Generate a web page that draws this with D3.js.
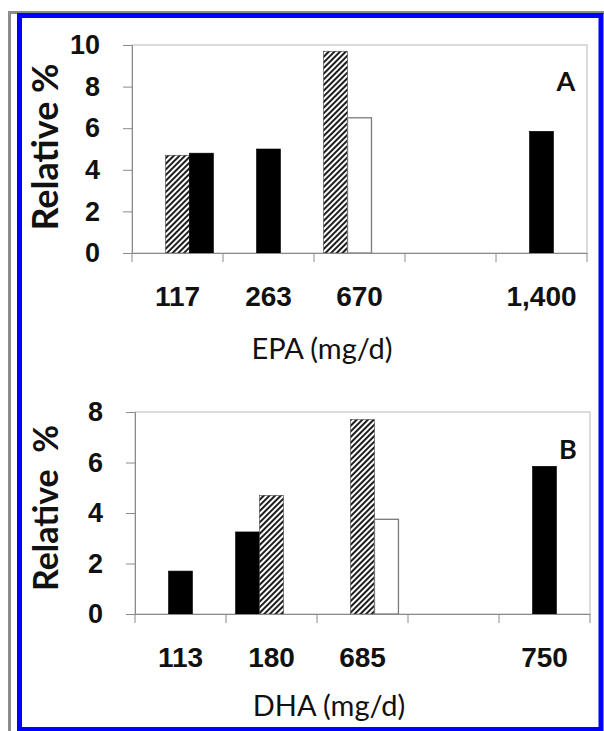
<!DOCTYPE html>
<html lang="en">
<head>
<meta charset="UTF-8">
<title>EPA / DHA - Relative %</title>
<script src="https://d3js.org/d3.v7.min.js"></script>
<style>
    body { margin: 0; background: #fff; }
    svg { display: block; font-family: Lato, "Open Sans", sans-serif; }
    .tick text { font-weight: bold; fill: #111; }
    .ylab { font-weight: bold; white-space: pre; }
</style>
</head>
<body>
<svg id="canvas" width="604" height="731"></svg>
<script>
// ---- panel A : EPA ----
// three bars per cluster (series 1..3); group says which study type the bar is
let epaLabels = ["117", "263", "670", "", "1,400"];
let epaSeries = [
    [null, null, 9.7, null, null],
    [4.7, 5.0, 6.5, null, 5.85],
    [4.8, null, null, null, null]
];
let epaGroups = [
    [null, null, "h", null, null],
    ["h", "b", "w", null, "b"],
    ["b", null, null, null, null]
];
let epaTicks = [0, 2, 4, 6, 8, 10];

// ---- panel B : DHA ----
let dhaLabels = ["113", "180", "685", "", "750"];
let dhaSeries = [
    [null, 3.25, null, null, null],
    [1.7, 4.7, 7.7, null, 5.85],
    [null, null, 3.75, null, null]
];
let dhaGroups = [
    [null, "b", null, null, null],
    ["b", "h", "h", null, "b"],
    [null, null, "w", null, null]
];
let dhaTicks = [0, 2, 4, 6, 8];

let svg = d3.select('#canvas');

// frame: grey outer line, blue inner line
svg.append('rect').attr('x', 9.5).attr('y', 12.5).attr('width', 700).attr('height', 800)
    .attr('fill', 'none').attr('stroke', '#8c8c8c').attr('stroke-width', 3);
svg.append('rect').attr('x', 19.5).attr('y', 15.5).attr('width', 581.5).attr('height', 714)
    .attr('fill', '#fff').attr('stroke', '#0000ff').attr('stroke-width', 5);

// hatch pattern  ////
let defs = svg.append('defs');
defs.append('pattern')
    .attr('id', 'hatch')
    .attr('patternUnits', 'userSpaceOnUse')
    .attr('width', 4).attr('height', 4)
    .attr('patternTransform', 'rotate(45)')
    .call(p => {
        p.append('rect').attr('width', 4).attr('height', 4).attr('fill', '#fff');
        p.append('line').attr('x1', 1).attr('y1', 0).attr('x2', 1).attr('y2', 4)
            .attr('stroke', '#111').attr('stroke-width', 1.9);
    });

let fillScale = d3.scaleOrdinal().domain(["b", "h", "w"]).range(["#000", "url(#hatch)", "#fff"]);
let strokeScale = d3.scaleOrdinal().domain(["b", "h", "w"]).range(["#000", "#444", "#7a7a7a"]);

function drawPanel(cfg) {
    let g = svg.append('g');
    let x = d3.scaleBand().domain(cfg.labels.map((d, i) => i)).range([cfg.x0, cfg.x1]);
    let gap = x.bandwidth() * 0.105;
    let x1 = d3.scaleBand().domain([0, 1, 2]).range([gap, x.bandwidth() - gap]);
    let y = d3.scaleLinear().domain([0, cfg.yMax]).range([cfg.y1, cfg.y0]);

    // plot area border
    g.append('rect').attr('x', cfg.x0).attr('y', cfg.y0)
        .attr('width', cfg.x1 - cfg.x0).attr('height', cfg.y1 - cfg.y0)
        .attr('fill', 'none').attr('stroke', '#b8b8b8').attr('stroke-width', 1);

    // bars
    let bars = [];
    cfg.series.forEach((s, si) => s.forEach((v, ci) => {
        if (v != null) bars.push({ci: ci, si: si, v: v, grp: cfg.groups[si][ci]});
    }));
    g.selectAll('rect.bar').data(bars).enter().append('rect')
        .attr('class', 'bar')
        .attr('x', d => x(d.ci) + x1(d.si))
        .attr('width', x1.bandwidth())
        .attr('y', d => y(d.v))
        .attr('height', d => y(0) - y(d.v))
        .attr('fill', d => fillScale(d.grp))
        .attr('stroke', d => strokeScale(d.grp))
        .attr('stroke-width', d => d.grp === 'w' ? 1.3 : 0.6);

    // y axis
    let yAxis = g.append('g').attr('transform', `translate(${cfg.x0},0)`)
        .call(d3.axisLeft(y).tickValues(cfg.ticks).tickSize(9).tickPadding(23));
    yAxis.select('.domain').attr('stroke', '#8a8a8a');
    yAxis.selectAll('.tick line').attr('stroke', '#8a8a8a');
    yAxis.selectAll('.tick text').attr('font-size', 27);

    // x axis: labels at band centres, tick marks at band edges
    let xAxis = g.append('g').attr('transform', `translate(0,${cfg.y1})`)
        .call(d3.axisBottom(x).tickFormat(i => cfg.labels[i]).tickSize(0).tickPadding(33));
    xAxis.select('.domain').attr('stroke', '#8a8a8a');
    xAxis.selectAll('.tick text').attr('font-size', 28);
    let edges = x.domain().map(d => x(d)).concat([cfg.x1]);
    xAxis.selectAll('line.edge').data(edges).enter().append('line')
        .attr('class', 'edge')
        .attr('x1', d => d).attr('x2', d => d)
        .attr('y1', 0).attr('y2', 9)
        .attr('stroke', '#8a8a8a');

    // titles
    g.append('text').attr('x', cfg.titleX).attr('y', cfg.titleY)
        .attr('text-anchor', 'middle').attr('font-size', 29).attr('fill', '#111')
        .text(cfg.title);
    g.append('text').attr('class', 'ylab')
        .attr('transform', `translate(${cfg.ylabX},${cfg.ylabY}) rotate(-90)`)
        .attr('text-anchor', 'middle').attr('font-size', cfg.ylabSize).attr('fill', '#111')
        .text(cfg.ylab);
    g.append('text').attr('x', cfg.letterX).attr('y', cfg.letterY)
        .attr('text-anchor', 'middle').attr('font-size', 27).attr('font-weight', 'bold')
        .attr('fill', '#111').text(cfg.letter);
}

drawPanel({
    labels: epaLabels, series: epaSeries, groups: epaGroups, ticks: epaTicks, yMax: 10,
    x0: 132, x1: 587, y0: 45, y1: 253,
    title: "EPA (mg/d)", titleX: 322, titleY: 359,
    ylab: "Relative %", ylabX: 58, ylabY: 147, ylabSize: 36,
    letter: "A", letterX: 566, letterY: 91
});

drawPanel({
    labels: dhaLabels, series: dhaSeries, groups: dhaGroups, ticks: dhaTicks, yMax: 8,
    x0: 135, x1: 590, y0: 412, y1: 614,
    title: "DHA (mg/d)", titleX: 329, titleY: 716,
    ylab: "Relative  %", ylabX: 58, ylabY: 508, ylabSize: 34,
    letter: "B", letterX: 568, letterY: 459
});
</script>
</body>
</html>
